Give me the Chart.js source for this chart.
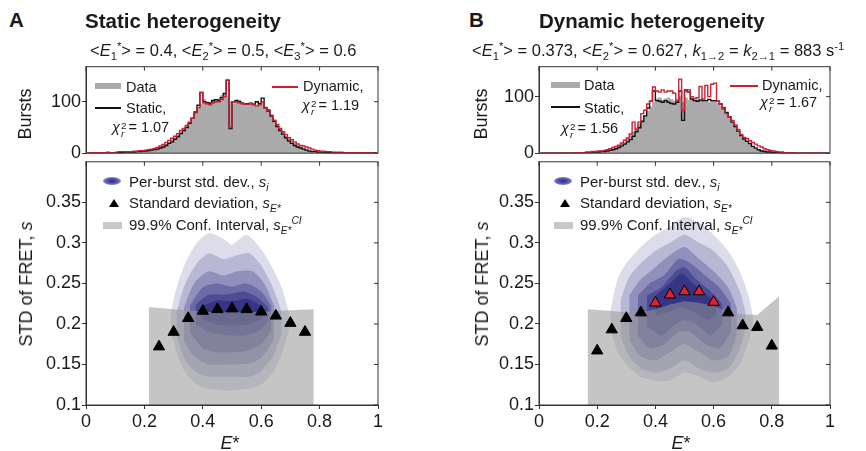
<!DOCTYPE html>
<html>
<head>
<meta charset="utf-8">
<title>Static vs dynamic heterogeneity</title>
<script src="https://cdn.jsdelivr.net/npm/chart.js@4.4.1/dist/chart.umd.min.js"></script>
<style>
  html, body { margin: 0; padding: 0; background: #fff; }
  #fig { position: relative; width: 866px; height: 451px; overflow: hidden;
         font-family: "Liberation Sans", Arial, sans-serif; color: #1a1a1a; }
  #fig canvas { position: absolute; }
  .t { position: absolute; white-space: nowrap; line-height: 1; }
  .t sub, .t sup { font-size: 0.68em; line-height: 0; }
  .title { font-size: 20.5px; font-weight: bold; }
  .sub { font-size: 16.5px; }
  .leg { font-size: 14.5px; }
  .leg2 { font-size: 15px; }
  .ax { font-size: 18px; transform: translate(-50%, -50%); }
  .rot { font-size: 18px; transform: translate(-50%, -50%) rotate(-90deg); }
  .ico { position: absolute; }
  .chi { display: inline-flex; flex-direction: column; font-size: 0.68em; line-height: 0.85;
         vertical-align: 0.35em; margin-left: 1px; margin-right: 2px; }
  .tri { width: 0; height: 0; border-left: 5px solid transparent; border-right: 5px solid transparent;
         border-bottom: 8px solid #000; }
  .blob { border-radius: 50%; background: radial-gradient(ellipse at center, #2a2a8a 0%, #5a5ab0 45%, #c8c8e6 100%); }
</style>
</head>
<body>
<div id="fig">
  <canvas id="histA" width="400" height="115" style="left:0;top:50px"></canvas>
  <canvas id="stdA" width="400" height="301" style="left:0;top:150px"></canvas>
  <canvas id="histB" width="433" height="115" style="left:433px;top:50px"></canvas>
  <canvas id="stdB" width="433" height="301" style="left:433px;top:150px"></canvas>

  <!-- panel A text -->
  <div class="t title" style="left:9px;top:10px">A</div>
  <div class="t title" style="left:85px;top:11px">Static heterogeneity</div>
  <div class="t sub" style="left:90px;top:42px">&lt;<i>E</i><sub>1</sub><sup>*</sup>&gt; = 0.4, &lt;<i>E</i><sub>2</sub><sup>*</sup>&gt; = 0.5, &lt;<i>E</i><sub>3</sub><sup>*</sup>&gt; = 0.6</div>
  <div class="ico" style="left:95px;top:83px;width:26px;height:6px;background:#aaa"></div>
  <div class="t leg" style="left:126px;top:80px">Data</div>
  <div class="ico" style="left:95px;top:107px;width:26px;height:2px;background:#111"></div>
  <div class="t leg" style="left:126px;top:101px">Static,</div>
  <div class="t leg" style="left:112px;top:120px"><i>χ</i><span class="chi"><span>2</span><i>r</i></span>= 1.07</div>
  <div class="ico" style="left:272px;top:86px;width:26px;height:2px;background:#cc1f2f"></div>
  <div class="t leg" style="left:303px;top:79px">Dynamic,</div>
  <div class="t leg" style="left:302px;top:98px"><i>χ</i><span class="chi"><span>2</span><i>r</i></span>= 1.19</div>
  <div class="ico blob" style="left:103px;top:177px;width:18px;height:8px"></div>
  <div class="t leg2" style="left:129px;top:174px">Per-burst std. dev., <i>s<sub>i</sub></i></div>
  <div class="ico tri" style="left:109px;top:199px"></div>
  <div class="t leg2" style="left:129px;top:195px">Standard deviation, <i>s<sub>E*</sub></i></div>
  <div class="ico" style="left:103px;top:222px;width:19px;height:7px;background:#c8c8c8"></div>
  <div class="t leg2" style="left:129px;top:217px">99.9% Conf. Interval, <i>s<sub>E*</sub><sup>CI</sup></i></div>
  <div class="t rot" style="left:25px;top:114px">Bursts</div>
  <div class="t rot" style="left:26px;top:284px">STD of FRET, <i>s</i></div>
  <div class="t ax" style="left:230px;top:443px"><i>E</i>*</div>

  <!-- panel B text -->
  <div class="t title" style="left:469px;top:10px">B</div>
  <div class="t title" style="left:539px;top:11px">Dynamic heterogeneity</div>
  <div class="t sub" style="left:472px;top:42px">&lt;<i>E</i><sub>1</sub><sup>*</sup>&gt; = 0.373, &lt;<i>E</i><sub>2</sub><sup>*</sup>&gt; = 0.627, <i>k</i><sub>1→2</sub> = <i>k</i><sub>2→1</sub> = 883 s<sup>-1</sup></div>
  <div class="ico" style="left:551px;top:82px;width:29px;height:6px;background:#aaa"></div>
  <div class="t leg" style="left:584px;top:78px">Data</div>
  <div class="ico" style="left:551px;top:106px;width:29px;height:2px;background:#111"></div>
  <div class="t leg" style="left:584px;top:101px">Static,</div>
  <div class="t leg" style="left:561px;top:121px"><i>χ</i><span class="chi"><span>2</span><i>r</i></span>= 1.56</div>
  <div class="ico" style="left:730px;top:85px;width:28px;height:2px;background:#cc1f2f"></div>
  <div class="t leg" style="left:762px;top:78px">Dynamic,</div>
  <div class="t leg" style="left:760px;top:95px"><i>χ</i><span class="chi"><span>2</span><i>r</i></span>= 1.67</div>
  <div class="ico blob" style="left:554px;top:177px;width:18px;height:8px"></div>
  <div class="t leg2" style="left:580px;top:174px">Per-burst std. dev., <i>s<sub>i</sub></i></div>
  <div class="ico tri" style="left:560px;top:199px"></div>
  <div class="t leg2" style="left:580px;top:195px">Standard deviation, <i>s<sub>E*</sub></i></div>
  <div class="ico" style="left:554px;top:222px;width:19px;height:7px;background:#c8c8c8"></div>
  <div class="t leg2" style="left:580px;top:217px">99.9% Conf. Interval, <i>s<sub>E*</sub><sup>CI</sup></i></div>
  <div class="t rot" style="left:481px;top:114px">Bursts</div>
  <div class="t rot" style="left:482px;top:284px">STD of FRET, <i>s</i></div>
  <div class="t ax" style="left:681px;top:443px"><i>E</i>*</div>
</div>

<script>
// Burst histograms, counts per 0.01-wide E* bin (bins 0.00 ... 0.99)
const histA_data = [
  0, 0, 1, 0, 0, 1, 0, 1, 1, 0,
  1, 1, 2, 1, 2, 2, 3, 3, 3, 4,
  5, 6, 7, 8, 9, 11, 14, 17, 21, 26,
  30, 35, 41, 45, 51, 57, 66, 76, 86, 95,
  104, 100, 99, 104, 103, 105, 112, 116, 110, 100,
  96, 104, 103, 98, 96, 95, 97, 94, 92, 98,
  100, 90, 85, 74, 64, 55, 47, 40, 33, 27,
  23, 19, 15, 12, 10, 8, 6, 5, 4, 3,
  3, 2, 2, 2, 1, 1, 1, 1, 1, 1,
  1, 0, 1, 0, 0, 0, 0, 0, 0, 0];
const histA_static = [
  0, 0, 0, 0, 0, 0, 0, 0, 1, 1,
  1, 1, 1, 2, 2, 2, 2, 3, 3, 4,
  4, 5, 6, 7, 8, 10, 12, 15, 19, 22,
  27, 32, 38, 44, 50, 58, 68, 80, 93, 118,
  100, 98, 97, 102, 104, 103, 108, 116, 142, 48,
  100, 102, 100, 97, 95, 96, 97, 95, 100, 96,
  107, 88, 82, 72, 62, 52, 44, 37, 30, 24,
  19, 15, 12, 10, 8, 6, 4, 3, 3, 2,
  2, 2, 1, 1, 1, 1, 1, 1, 0, 0,
  0, 0, 0, 0, 0, 0, 0, 0, 0, 0];
const histA_dynamic = [
  1, 1, 1, 1, 1, 1, 1, 2, 1, 1,
  2, 3, 3, 3, 3, 3, 4, 4, 5, 5,
  6, 7, 8, 9, 11, 14, 17, 21, 25, 29,
  33, 38, 44, 48, 54, 60, 68, 78, 88, 118,
  98, 96, 94, 98, 100, 100, 104, 110, 142, 50,
  100, 100, 98, 96, 95, 95, 96, 94, 92, 94,
  100, 88, 84, 74, 64, 56, 48, 42, 36, 30,
  26, 22, 18, 15, 14, 12, 10, 8, 6, 5,
  4, 4, 3, 3, 2, 2, 2, 2, 1, 1,
  1, 1, 1, 1, 1, 1, 1, 1, 1, 1];

const histB_data = [
  0, 0, 0, 0, 0, 0, 0, 0, 0, 0,
  0, 0, 1, 1, 1, 1, 1, 2, 2, 2,
  3, 3, 4, 5, 6, 8, 10, 13, 16, 19,
  25, 31, 38, 45, 52, 58, 66, 74, 82, 90,
  96, 98, 94, 96, 98, 95, 92, 96, 100, 90,
  98, 94, 95, 96, 95, 93, 94, 92, 90, 93,
  92, 88, 84, 78, 70, 62, 54, 46, 38, 31,
  25, 20, 16, 12, 9, 7, 5, 4, 3, 2,
  2, 1, 1, 1, 1, 0, 0, 0, 0, 0,
  0, 0, 0, 0, 0, 0, 0, 0, 0, 0];
const histB_static = [
  0, 0, 0, 0, 0, 0, 0, 0, 0, 0,
  0, 0, 0, 1, 1, 1, 1, 1, 2, 2,
  2, 3, 3, 4, 5, 6, 8, 10, 13, 16,
  20, 24, 30, 38, 45, 56, 66, 80, 92, 110,
  93, 92, 90, 93, 90, 88, 87, 90, 110, 58,
  112, 108, 96, 93, 92, 94, 93, 93, 95, 93,
  93, 92, 87, 80, 72, 64, 55, 47, 39, 31,
  25, 21, 17, 12, 9, 6, 4, 3, 2, 2,
  1, 1, 1, 0, 0, 0, 0, 0, 0, 0,
  0, 0, 0, 0, 0, 0, 0, 0, 0, 0];
const histB_dynamic = [
  0, 0, 0, 0, 0, 0, 0, 0, 0, 0,
  0, 0, 1, 1, 1, 1, 2, 2, 3, 3,
  4, 4, 5, 6, 8, 10, 12, 14, 18, 23,
  27, 34, 55, 42, 55, 70, 76, 87, 92, 117,
  110, 108, 112, 108, 110, 110, 106, 93, 131, 76,
  110, 112, 100, 97, 98, 118, 96, 120, 100, 122,
  124, 92, 87, 78, 70, 64, 58, 50, 42, 33,
  28, 26, 22, 19, 16, 13, 11, 8, 6, 5,
  4, 3, 2, 2, 1, 1, 1, 1, 0, 0,
  0, 0, 0, 0, 0, 0, 0, 0, 0, 0];

// Per-burst std. dev. density, outer to inner contour: rows of [E*, upper s, lower s]
const levelA1 = [[0.29,0.212,0.193],[0.31,0.245,0.165],[0.34,0.275,0.140],[0.38,0.300,0.125],[0.42,0.312,0.120],[0.47,0.305,0.118],[0.50,0.298,0.118],[0.55,0.310,0.120],[0.60,0.292,0.125],[0.64,0.268,0.140],[0.67,0.245,0.163],[0.695,0.215,0.192]];
const levelA2 = [[0.31,0.215,0.185],[0.34,0.250,0.155],[0.38,0.275,0.140],[0.42,0.287,0.135],[0.47,0.280,0.135],[0.52,0.285,0.135],[0.56,0.287,0.135],[0.60,0.272,0.142],[0.64,0.245,0.160],[0.67,0.215,0.188]];
const levelA3 = [[0.335,0.220,0.180],[0.37,0.250,0.160],[0.42,0.265,0.150],[0.47,0.260,0.150],[0.52,0.265,0.150],[0.57,0.265,0.152],[0.61,0.250,0.162],[0.645,0.222,0.182]];
const levelA4 = [[0.355,0.222,0.190],[0.40,0.245,0.170],[0.45,0.250,0.165],[0.50,0.246,0.165],[0.55,0.250,0.167],[0.60,0.240,0.175],[0.635,0.222,0.192]];
const levelA5 = [[0.375,0.224,0.200],[0.42,0.236,0.190],[0.48,0.236,0.186],[0.54,0.240,0.186],[0.59,0.232,0.191],[0.625,0.220,0.203]];
const levelA6 = [[0.395,0.222,0.206],[0.45,0.229,0.199],[0.50,0.228,0.198],[0.55,0.231,0.199],[0.605,0.222,0.206]];

const levelB1 = [[0.245,0.215,0.195],[0.27,0.255,0.165],[0.30,0.275,0.150],[0.35,0.295,0.135],[0.40,0.310,0.130],[0.45,0.320,0.130],[0.50,0.332,0.140],[0.55,0.325,0.135],[0.60,0.310,0.128],[0.65,0.290,0.135],[0.69,0.265,0.150],[0.72,0.235,0.178],[0.735,0.210,0.200]];
const levelB2 = [[0.28,0.230,0.185],[0.31,0.258,0.160],[0.35,0.275,0.145],[0.40,0.290,0.140],[0.45,0.300,0.145],[0.50,0.310,0.155],[0.55,0.300,0.145],[0.60,0.290,0.140],[0.65,0.270,0.145],[0.69,0.240,0.170],[0.71,0.215,0.195]];
const levelB3 = [[0.31,0.235,0.180],[0.35,0.255,0.160],[0.40,0.270,0.155],[0.45,0.285,0.165],[0.50,0.295,0.175],[0.55,0.280,0.165],[0.60,0.265,0.155],[0.65,0.245,0.160],[0.68,0.220,0.185]];
const levelB4 = [[0.34,0.235,0.185],[0.38,0.250,0.170],[0.43,0.260,0.175],[0.48,0.280,0.190],[0.52,0.275,0.190],[0.57,0.260,0.175],[0.62,0.245,0.170],[0.66,0.225,0.190]];
const levelB5 = [[0.37,0.235,0.197],[0.42,0.245,0.186],[0.47,0.265,0.200],[0.50,0.270,0.205],[0.54,0.255,0.200],[0.59,0.240,0.186],[0.63,0.225,0.200]];
const levelB6 = [[0.40,0.235,0.210],[0.45,0.250,0.215],[0.49,0.262,0.220],[0.53,0.250,0.215],[0.58,0.235,0.205],[0.61,0.225,0.212]];

// Standard deviation s_E* (triangles); red = outside the confidence interval
const triA_E = [0.25, 0.30, 0.35, 0.40, 0.45, 0.50, 0.55, 0.60, 0.65, 0.70, 0.75];
const triA_s = [0.172, 0.190, 0.207, 0.216, 0.218, 0.219, 0.218, 0.215, 0.210, 0.201, 0.190];
const triB_E = [0.20, 0.25, 0.30, 0.35, 0.65, 0.70, 0.75, 0.80];
const triB_s = [0.167, 0.193, 0.207, 0.214, 0.214, 0.198, 0.196, 0.173];
const triBred_E = [0.40, 0.45, 0.50, 0.55, 0.60];
const triBred_s = [0.226, 0.236, 0.240, 0.240, 0.227];

// 99.9% confidence interval upper edge
const ciA_E = [0.215, 0.30, 0.40, 0.50, 0.60, 0.70, 0.78];
const ciA_s = [0.221, 0.218, 0.215, 0.214, 0.215, 0.217, 0.218];
const ciB_E = [0.167, 0.25, 0.30, 0.35, 0.40, 0.45, 0.50, 0.55, 0.60, 0.65, 0.70, 0.75, 0.825];
const ciB_s = [0.218, 0.216, 0.214, 0.214, 0.218, 0.224, 0.228, 0.226, 0.222, 0.215, 0.212, 0.211, 0.234];

const xTicks = [0, 0.2, 0.4, 0.6, 0.8, 1];
const burstTicks = [0, 100];
const stdTicks = [0.1, 0.15, 0.2, 0.25, 0.3, 0.35];

const binWidth = 0.01;
const RED = '#cc1f2f';
const AXIS = '#333';
const levelAlpha = [0.16, 0.2, 0.27, 0.35, 0.45, 0.55];

Chart.defaults.font.family = '"Liberation Sans", Arial, sans-serif';
Chart.defaults.font.size = 18;
Chart.defaults.color = '#1a1a1a';
Chart.defaults.animation = false;

// box around plot area + inward ticks on top and right edges
const framePlugin = {
    id: 'frame',
    afterDatasetsDraw(chart) {
        const { ctx, chartArea: a, scales } = chart;
        ctx.save();
        ctx.strokeStyle = AXIS;
        ctx.lineWidth = 1;
        ctx.strokeRect(a.left, a.top, a.right - a.left, a.bottom - a.top);
        ctx.beginPath();
        scales.x.ticks.forEach(t => {
            const px = scales.x.getPixelForValue(t.value);
            ctx.moveTo(px, a.top);
            ctx.lineTo(px, a.top + 4);
        });
        scales.y.ticks.forEach(t => {
            const py = scales.y.getPixelForValue(t.value);
            ctx.moveTo(a.right, py);
            ctx.lineTo(a.right - 4, py);
        });
        ctx.stroke();
        ctx.restore();
    }
};
Chart.register(framePlugin);

function toBins(values) {
    return values.map((v, i) => ({ x: (i + 0.5) * binWidth, y: v }));
}

function toPoints(xs, ys) {
    return xs.map((x, i) => ({ x: x, y: ys[i] }));
}

function yAxis(ticks, min, max, width) {
    return {
        min: min, max: max,
        afterBuildTicks: s => { s.ticks = ticks.map(v => ({ value: v })); },
        afterFit: s => { s.width = width; },
        ticks: { padding: 1, callback: v => String(v) },
        grid: { drawOnChartArea: false, tickLength: 4, color: AXIS },
        border: { color: AXIS }
    };
}

function histChart(id, yMax, yWidth, padding, data, stat, dyn) {
    return new Chart(document.getElementById(id), {
        type: 'bar',
        data: {
            datasets: [
                { type: 'line', data: toBins(dyn), borderColor: RED, borderWidth: 1.4, stepped: 'middle', pointRadius: 0, order: 0 },
                { type: 'line', data: toBins(stat), borderColor: '#111', borderWidth: 1.4, stepped: 'middle', pointRadius: 0, order: 1 },
                { type: 'bar', data: toBins(data), backgroundColor: '#aaaaaa', barPercentage: 1, categoryPercentage: 1, order: 2 }
            ]
        },
        options: {
            responsive: false,
            layout: { padding: padding },
            plugins: { legend: { display: false }, tooltip: { enabled: false } },
            scales: {
                x: {
                    type: 'linear', min: 0, max: 1, offset: false,
                    afterBuildTicks: s => { s.ticks = xTicks.map(v => ({ value: v })); },
                    afterFit: s => { s.height = 0; },
                    ticks: { display: false },
                    grid: { display: false, offset: false },
                    border: { display: false }
                },
                y: yAxis(burstTicks, 0, yMax, yWidth)
            }
        }
    });
}

function stdChart(id, yWidth, padding, levels, ciE, ciS, triE, triS, redE, redS) {
    const sets = [
        { data: toPoints(triE, triS), showLine: false, pointStyle: 'triangle', pointRadius: 6.5,
          backgroundColor: '#000', borderColor: '#000', borderWidth: 1, order: 0 }
    ];
    if (redE) {
        sets.push({ data: toPoints(redE, redS), showLine: false, pointStyle: 'triangle', pointRadius: 6.5,
                    backgroundColor: '#e0202a', borderColor: '#000', borderWidth: 1, order: 0 });
    }
    sets.push({ data: toPoints(ciE, ciS), fill: 'start', backgroundColor: 'rgba(150,150,150,0.55)',
                borderColor: 'rgba(0,0,0,0)', borderWidth: 0, pointRadius: 0, order: 1 });
    levels.forEach((rows, k) => {
        sets.push({ data: rows.map(r => ({ x: r[0], y: r[1] })), fill: '+1',
                    backgroundColor: `rgba(38,38,125,${levelAlpha[k]})`, borderColor: 'rgba(0,0,0,0)',
                    borderWidth: 0, pointRadius: 0, tension: 0.25, order: 2 });
        sets.push({ data: rows.map(r => ({ x: r[0], y: r[2] })), fill: false, borderColor: 'rgba(0,0,0,0)',
                    borderWidth: 0, pointRadius: 0, tension: 0.25, order: 2 });
    });

    return new Chart(document.getElementById(id), {
        type: 'line',
        data: { datasets: sets },
        options: {
            responsive: false,
            layout: { padding: padding },
            plugins: { legend: { display: false }, tooltip: { enabled: false }, filler: { propagate: false } },
            scales: {
                x: {
                    type: 'linear', min: 0, max: 1,
                    afterBuildTicks: s => { s.ticks = xTicks.map(v => ({ value: v })); },
                    afterFit: s => { s.height = 46; },
                    ticks: { padding: 2, maxRotation: 0, autoSkip: false, callback: v => String(v) },
                    grid: { drawOnChartArea: false, tickLength: 4, color: AXIS },
                    border: { color: AXIS }
                },
                y: yAxis(stdTicks, 0.1, 0.4, yWidth)
            }
        }
    });
}

histChart('histA', 168, 86, { left: 0, right: 22, top: 16.7, bottom: 7.7 }, histA_data, histA_static, histA_dynamic);
histChart('histB', 153, 106, { left: 0, right: 36, top: 16.7, bottom: 7.3 }, histB_data, histB_static, histB_dynamic);
stdChart('stdA', 86, { left: 0, right: 22, top: 7.5, bottom: 0 },
    [levelA1, levelA2, levelA3, levelA4, levelA5, levelA6], ciA_E, ciA_s, triA_E, triA_s);
stdChart('stdB', 106, { left: 0, right: 36, top: 7.7, bottom: 0 },
    [levelB1, levelB2, levelB3, levelB4, levelB5, levelB6], ciB_E, ciB_s, triB_E, triB_s, triBred_E, triBred_s);
</script>
</body>
</html>
